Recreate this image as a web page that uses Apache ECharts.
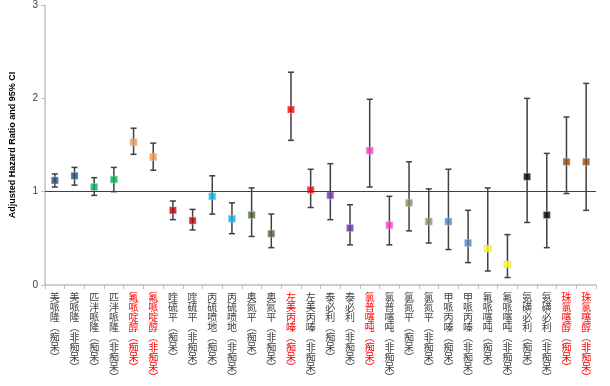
<!DOCTYPE html>
<html>
<head>
<meta charset="utf-8">
<script src="https://cdn.jsdelivr.net/npm/echarts@6/dist/echarts.min.js"></script>
<style>html,body{margin:0;padding:0;background:#fff}#c{width:610px;height:386px}</style>
</head>
<body>
<div id="c"></div>
<script>
var categories = ['美哌隆（痴呆）','美哌隆（非痴呆）','匹泮哌隆（痴呆）','匹泮哌隆（非痴呆）','氟哌啶醇（痴呆）','氟哌啶醇（非痴呆）','喹硫平（痴呆）','喹硫平（非痴呆）','丙硫喷地（痴呆）','丙硫喷地（非痴呆）','奥氮平（痴呆）','奥氮平（非痴呆）','左美丙嗪（痴呆）','左美丙嗪（非痴呆）','泰必利（痴呆）','泰必利（非痴呆）','氯普噻吨（痴呆）','氯普噻吨（非痴呆）','氯氮平（痴呆）','氯氮平（非痴呆）','甲哌丙嗪（痴呆）','甲哌丙嗪（非痴呆）','氟哌噻吨（痴呆）','氟哌噻吨（非痴呆）','氨磺必利（痴呆）','氨磺必利（非痴呆）','珠氯噻醇（痴呆）','珠氯噻醇（非痴呆）'];
var hazardRatio = [1.12,1.17,1.05,1.13,1.53,1.37,0.80,0.69,0.95,0.71,0.75,0.55,1.88,1.02,0.96,0.61,1.44,0.64,0.88,0.68,0.68,0.45,0.39,0.22,1.16,0.75,1.32,1.32];
var ciLower = [1.05,1.07,0.96,1.00,1.40,1.23,0.70,0.59,0.76,0.55,0.52,0.40,1.55,0.83,0.70,0.43,1.05,0.43,0.58,0.45,0.38,0.24,0.15,0.08,0.67,0.40,0.98,0.80];
var ciUpper = [1.19,1.26,1.15,1.26,1.68,1.52,0.90,0.81,1.17,0.88,1.04,0.76,2.28,1.24,1.30,0.86,1.99,0.95,1.32,1.03,1.24,0.80,1.04,0.54,2.00,1.41,1.80,2.16];
var highlighted = [4,5,12,16,26,27];
var yTicks = [0,1,2,3];

var palette = ['#1F497D','#1F497D','#00B050','#00B050','#F79646','#F79646','#C00000','#C00000','#00B0F0','#00B0F0','#4F6228','#4F6228','#FF0000','#FF0000','#7030A0','#7030A0','#FF33CC','#FF33CC','#948A54','#948A54','#4F81BD','#4F81BD','#FFFF00','#FFFF00','#000000','#000000','#984807','#984807'];

var chart = echarts.init(document.getElementById('c'));
var errData = categories.map(function(c,i){ return [i, ciLower[i], ciUpper[i]]; });
chart.setOption({
  animation:false,
  grid:{left:42,right:14,top:5,bottom:101,containLabel:false},
  xAxis:{
    type:'category', data:categories, boundaryGap:true,
    axisLine:{lineStyle:{color:'#BFBFBF',width:1.5}},
    axisTick:{show:true,length:4,lineStyle:{color:'#BFBFBF'}},
    axisLabel:{interval:0, margin:7, fontSize:10, lineHeight:10,
      fontFamily:'Noto Sans CJK SC',
      verticalAlign:'top',
      color:function(v,i){ return highlighted.indexOf(categories.indexOf(v))>=0 ? '#FF0000' : '#404040'; },
      formatter:function(v){ return v.replace(/（/g,'︵').replace(/）/g,'︶').split('').join('\n'); }
    }
  },
  yAxis:{
    type:'value', min:yTicks[0], max:yTicks[yTicks.length-1], interval:1,
    name:'Adjusted Hazard Ratio and 95% CI', nameLocation:'middle', nameRotate:90, nameGap:28,
    nameTextStyle:{fontSize:9,fontWeight:'bold',color:'#000',fontFamily:'Liberation Sans'},
    axisLine:{show:true,lineStyle:{color:'#BFBFBF',width:1.5}},
    axisTick:{show:true,length:4,lineStyle:{color:'#BFBFBF'}},
    splitLine:{show:false},
    axisLabel:{fontSize:10,color:'#404040',margin:7,fontFamily:'Liberation Sans'}
  },
  series:[
    {type:'custom', data:errData, z:2,
      renderItem:function(params, api){
        var x = api.value(0);
        var lo = api.coord([x, api.value(1)]);
        var hi = api.coord([x, api.value(2)]);
        var st = {stroke:'#404040', lineWidth:1.5};
        return {type:'group', children:[
          {type:'line', shape:{x1:lo[0],y1:lo[1],x2:hi[0],y2:hi[1]}, style:st},
          {type:'line', shape:{x1:lo[0]-3,y1:lo[1],x2:lo[0]+3,y2:lo[1]}, style:st},
          {type:'line', shape:{x1:hi[0]-3,y1:hi[1],x2:hi[0]+3,y2:hi[1]}, style:st}
        ]};
      }
    },
    {type:'scatter', z:3, symbol:'rect', symbolSize:7,
      data:hazardRatio.map(function(v,i){ return {value:v, itemStyle:{color:palette[i], borderColor:'#B9CDE5', borderWidth:0.6}}; }),
      markLine:{silent:true, symbol:['none','none'], label:{show:false},
        lineStyle:{color:'#404040',width:1.2,type:'solid'},
        data:[{yAxis:1}]}
    }
  ]
});
</script>
</body>
</html>
